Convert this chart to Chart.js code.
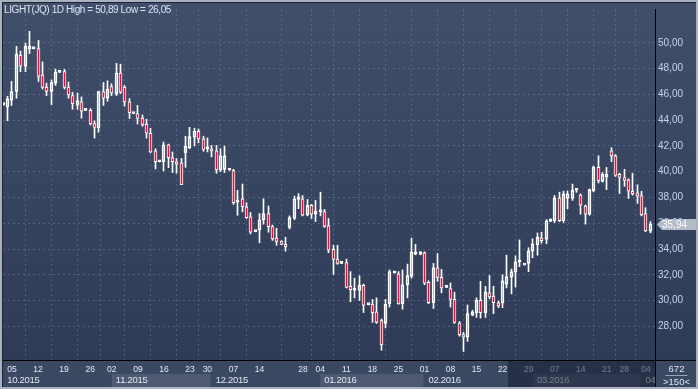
<!DOCTYPE html>
<html>
<head>
<meta charset="utf-8">
<script src="https://cdn.jsdelivr.net/npm/chart.js@4.4.1/dist/chart.umd.min.js"></script>
<style>
  html, body { margin: 0; padding: 0; background: #2e3a56; }
  canvas { display: block; }
</style>
</head>
<body>
<canvas id="chart" width="698" height="389"></canvas>
<script>
const title = 'LIGHT(JQ) 1D High = 50,89 Low = 26,05';

// daily candles, oldest first
const opens = [
  45.20, 45.04, 45.55, 46.23, 49.03, 48.19, 49.51, 49.54, 49.54, 47.50,
  46.57, 46.23, 46.87, 47.71, 47.76, 46.57, 45.90, 45.16, 45.42, 44.76,
  44.76, 43.74, 43.41, 46.21, 45.70, 46.61, 46.06, 47.64, 46.57, 45.42,
  44.51, 44.51, 44.15, 43.67, 42.98, 41.61, 40.77, 40.77, 42.09, 41.08,
  40.77, 40.69, 41.46, 41.86, 42.68, 43.13, 42.55, 41.78, 41.78, 41.61,
  40.13, 40.18, 40.13, 40.08, 37.64, 37.89, 37.28, 36.50, 35.35, 35.51,
  36.27, 36.75, 35.74, 34.84, 34.62, 34.36, 35.68, 36.37, 37.84, 37.89,
  36.62, 37.38, 36.70, 36.88, 36.90, 35.81, 33.98, 33.22, 32.88, 32.94,
  31.11, 30.80, 30.78, 31.18, 29.68, 29.71, 29.12, 28.44, 28.23, 29.76,
  32.15, 32.07, 29.76, 31.23, 31.87, 33.60, 33.60, 33.70, 31.41, 29.83,
  32.55, 31.81, 31.03, 30.93, 30.09, 28.26, 27.37, 27.16, 28.87, 29.07,
  30.01, 29.07, 30.60, 30.34, 29.83, 29.83, 31.28, 31.81, 32.20, 33.00,
  32.88, 32.88, 33.83, 34.33, 34.87, 34.74, 36.14, 36.19, 37.97, 36.19,
  37.92, 37.92, 38.56, 38.18, 37.33, 36.70, 38.53, 40.33, 39.24, 39.62,
  41.61, 41.23, 39.80, 39.55, 39.37, 38.48, 38.35, 38.15, 36.75, 35.38
];
const highs = [
  45.25, 45.85, 47.00, 49.72, 49.36, 49.97, 50.89, 49.56, 50.18, 48.52,
  46.87, 47.12, 47.96, 47.73, 47.94, 46.95, 46.16, 46.10, 45.80, 44.78,
  44.89, 43.94, 46.25, 46.92, 47.05, 46.82, 48.40, 48.34, 46.69, 45.67,
  44.53, 45.14, 44.40, 44.07, 43.36, 41.78, 40.79, 42.30, 42.14, 41.53,
  41.02, 41.02, 42.75, 43.44, 43.37, 43.31, 42.75, 42.62, 42.04, 42.04,
  41.78, 41.99, 40.15, 40.18, 38.56, 39.04, 37.59, 36.83, 35.37, 36.75,
  37.89, 37.34, 35.86, 35.61, 34.64, 34.92, 36.57, 38.10, 38.30, 38.15,
  37.84, 37.46, 37.77, 38.41, 37.08, 36.37, 34.29, 34.29, 32.90, 33.22,
  32.25, 31.74, 31.92, 31.28, 29.70, 30.09, 30.21, 28.57, 30.09, 32.38,
  32.27, 32.25, 32.38, 32.83, 34.84, 34.36, 33.80, 33.78, 31.54, 32.88,
  33.65, 32.42, 31.05, 31.36, 30.65, 28.38, 27.54, 29.66, 29.25, 30.21,
  31.49, 31.11, 31.94, 31.11, 29.96, 32.00, 33.52, 32.45, 33.47, 34.71,
  32.90, 34.10, 34.79, 35.25, 35.30, 36.27, 36.34, 38.15, 38.41, 38.49,
  38.49, 39.04, 38.60, 38.28, 37.41, 38.66, 40.43, 41.23, 39.93, 40.33,
  41.86, 41.33, 39.88, 40.18, 39.44, 39.88, 38.98, 38.48, 37.21, 36.12
];
const lows = [
  45.15, 43.95, 45.14, 45.70, 47.76, 47.76, 49.16, 49.52, 47.00, 46.41,
  45.90, 45.20, 46.69, 47.69, 46.41, 45.70, 44.84, 44.84, 44.15, 44.74,
  43.62, 42.60, 43.06, 45.14, 45.47, 45.90, 45.90, 46.06, 45.09, 44.13,
  44.49, 43.69, 43.52, 42.60, 41.46, 40.21, 40.75, 40.05, 40.31, 39.93,
  39.88, 38.99, 40.34, 41.78, 42.00, 42.24, 41.58, 41.53, 41.15, 39.88,
  40.00, 39.93, 40.11, 37.46, 36.62, 36.88, 36.37, 35.17, 35.33, 34.48,
  35.93, 35.30, 34.67, 34.29, 34.34, 33.83, 35.55, 36.27, 37.13, 36.57,
  36.57, 36.37, 36.12, 36.57, 35.68, 33.72, 32.04, 32.81, 32.86, 30.98,
  29.91, 30.21, 30.01, 29.07, 29.66, 28.31, 28.23, 26.15, 27.88, 29.50,
  32.13, 29.71, 29.33, 30.21, 31.74, 33.55, 33.55, 31.23, 29.76, 29.38,
  31.50, 30.60, 31.01, 29.50, 28.23, 27.24, 26.05, 26.83, 28.82, 28.69,
  28.64, 28.69, 30.14, 28.99, 29.45, 29.45, 30.98, 30.52, 31.05, 32.63,
  32.74, 32.25, 33.32, 33.52, 34.46, 34.41, 36.12, 36.06, 36.12, 36.06,
  37.13, 37.77, 38.40, 36.70, 35.93, 36.62, 38.43, 39.12, 39.19, 38.61,
  40.77, 39.63, 38.30, 38.86, 37.92, 38.18, 37.54, 36.57, 35.35, 35.25
];
const closes = [
  45.20, 45.65, 46.21, 49.10, 48.19, 49.72, 49.72, 49.54, 47.38, 46.54,
  46.23, 46.92, 47.71, 47.71, 46.54, 45.96, 45.27, 45.52, 44.70, 44.76,
  43.71, 43.44, 46.21, 45.70, 46.41, 46.11, 47.64, 46.16, 45.42, 44.58,
  44.51, 44.13, 43.62, 42.98, 41.53, 40.77, 40.77, 42.09, 41.08, 40.77,
  40.59, 38.99, 41.96, 42.72, 43.13, 42.55, 41.73, 41.78, 41.61, 40.13,
  41.23, 41.23, 40.13, 37.59, 37.79, 37.28, 36.44, 35.30, 35.35, 36.27,
  36.75, 35.74, 34.79, 34.59, 34.36, 34.18, 36.44, 37.89, 38.05, 36.62,
  37.38, 36.70, 36.95, 37.03, 35.76, 33.91, 33.19, 32.88, 32.88, 31.03,
  30.85, 30.80, 31.18, 29.63, 29.68, 29.07, 28.31, 26.58, 29.71, 32.25,
  32.25, 29.76, 31.23, 31.94, 33.78, 33.78, 33.78, 31.36, 29.83, 32.55,
  31.79, 30.98, 31.03, 30.09, 28.31, 27.35, 27.16, 28.99, 29.12, 30.01,
  29.07, 30.67, 30.29, 29.83, 29.58, 31.54, 31.87, 32.25, 33.00, 33.00,
  32.76, 33.85, 34.39, 34.92, 34.64, 36.19, 36.32, 37.97, 36.19, 38.28,
  38.28, 38.56, 38.56, 37.41, 36.70, 38.61, 40.33, 39.29, 39.80, 39.80,
  41.23, 39.70, 39.55, 39.32, 38.48, 38.28, 38.10, 36.65, 35.40, 35.94
];

// weekly grid: bar number of the week start and its day label
const weekBars = [3, 9, 15, 21, 26, 32, 38, 44, 48, 54, 60, 70, 74, 80, 86, 92, 98, 104, 110, 116, 122, 128, 134, 140, 144, 149];
const weekLabels = ['05', '12', '19', '26', '02', '09', '16', '23', '30', '07', '14', '28', '04', '11', '18', '25', '01', '08', '15', '22', '29', '07', '14', '21', '28', '04'];
const monthBars = [1, 26, 49, 74, 98, 123, 148];
const monthLabels = ['10.2015', '11.2015', '12.2015', '01.2016', '02.2016', '03.2016', '04'];
const yTicks = [28, 30, 32, 34, 36, 38, 40, 42, 44, 46, 48, 50];

const barNo = closes.map((_, i) => i + 1);
const lastPrice = closes[closes.length - 1];

const fmt = v => v.toFixed(2).replace('.', ',');
const FONT = "'Liberation Sans', Arial, sans-serif";

// put bars on whole pixels so the 1px wicks stay sharp
const snapBars = {
    id: 'snapBars',
    afterDatasetsUpdate(chart) {
        chart.data.datasets.forEach((ds, i) => {
            chart.getDatasetMeta(i).data.forEach(el => { el.x = Math.floor(el.x) + 0.5; });
        });
    }
};

const panel = {
    id: 'panel',
    beforeDraw(chart) {
        const {ctx, width, height} = chart;
        const g = ctx.createLinearGradient(0, 0, 0, height);
        g.addColorStop(0, '#414f6a');
        g.addColorStop(1, '#2d3955');
        ctx.save();
        ctx.fillStyle = g;
        ctx.fillRect(0, 0, width, height);
        ctx.restore();
    },
    afterDraw(chart) {
        const {ctx, width, height, chartArea: a, scales: {x, y}} = chart;
        const px = k => x.getPixelForValue(k);
        ctx.save();

        // time axis band
        ctx.fillStyle = '#3b4862';
        ctx.fillRect(a.left, a.bottom, width - a.left, height - a.bottom);

        // alternate month boxes
        ctx.fillStyle = 'rgba(255,255,255,0.10)';
        [1, 3, 5].forEach(m => {
            const x0 = px(monthBars[m]);
            const x1 = px(monthBars[m + 1]) - 1;
            ctx.fillRect(x0, a.bottom + 14, x1 - x0, 13);
        });

        ctx.save();
        ctx.beginPath();
        ctx.rect(a.left, a.bottom, a.right - a.left, height - a.bottom);
        ctx.clip();
        ctx.textBaseline = 'alphabetic';
        ctx.font = '8.5px ' + FONT;
        ctx.textAlign = 'center';
        ctx.fillStyle = '#e2e8f2';
        weekBars.forEach((b, i) => ctx.fillText(weekLabels[i], px(b), a.bottom + 12));
        ctx.font = '9.5px ' + FONT;
        ctx.textAlign = 'left';
        ctx.letterSpacing = '-0.3px';
        monthBars.forEach((b, i) => ctx.fillText(monthLabels[i], px(b) + 4, a.bottom + 23));
        ctx.letterSpacing = '0px';

        // navigator shade on the right of the time axis
        ctx.fillStyle = 'rgba(22,30,50,0.55)';
        const sx = px(117) + 1;
        ctx.fillRect(sx, a.bottom + 1, a.right - sx, height - a.bottom - 1);
        ctx.restore();

        // separators
        ctx.strokeStyle = '#000000';
        ctx.lineWidth = 1;
        ctx.beginPath();
        ctx.moveTo(a.left, Math.round(a.bottom) + 0.5);
        ctx.lineTo(width, Math.round(a.bottom) + 0.5);
        ctx.moveTo(Math.round(a.right) + 0.5, a.top);
        ctx.lineTo(Math.round(a.right) + 0.5, height);
        ctx.stroke();

        // corner counters
        ctx.fillStyle = '#dfe5f0';
        ctx.font = '9.5px ' + FONT;
        ctx.textAlign = 'center';
        const cx = (a.right + width) / 2;
        ctx.fillText('672', cx, a.bottom + 12);
        ctx.fillText('>150<', cx, a.bottom + 25);
        ctx.strokeStyle = '#9aa4b8';
        ctx.beginPath();
        ctx.moveTo(cx - 11, a.bottom + 15.5);
        ctx.lineTo(cx + 11, a.bottom + 15.5);
        ctx.stroke();

        // last price marker
        const yp = Math.round(y.getPixelForValue(lastPrice)) + 0.5;
        ctx.fillStyle = '#b3bac8';
        ctx.beginPath();
        ctx.moveTo(a.right + 2, yp);
        ctx.lineTo(a.right + 7, yp - 5.5);
        ctx.lineTo(width - 2, yp - 5.5);
        ctx.lineTo(width - 2, yp + 5.5);
        ctx.lineTo(a.right + 7, yp + 5.5);
        ctx.closePath();
        ctx.fill();
        ctx.fillStyle = '#ffffff';
        ctx.textAlign = 'left';
        ctx.textBaseline = 'middle';
        ctx.font = '10px ' + FONT;
        ctx.fillText(fmt(lastPrice), a.right + 7, yp + 0.5);

        // title
        ctx.textBaseline = 'alphabetic';
        ctx.fillStyle = '#dde4f2';
        ctx.font = '10px ' + FONT;
        ctx.letterSpacing = '-0.4px';
        ctx.fillText(title, 4, 13);
        ctx.letterSpacing = '0px';

        // frame
        ctx.fillStyle = '#1c2333';
        ctx.fillRect(2, 2, width - 4, 1);
        ctx.fillRect(2, 2, 1, height - 4);
        ctx.fillStyle = '#aab2c2';
        ctx.fillRect(0, 0, width, 2);
        ctx.fillRect(0, height - 2, width, 2);
        ctx.fillRect(0, 0, 2, height);
        ctx.fillRect(width - 2, 0, 2, height);
        ctx.restore();
    }
};

const gridColor = 'rgba(120,138,170,0.45)';

new Chart(document.getElementById('chart'), {
    type: 'bar',
    data: {
        datasets: [
            {
                data: barNo.map((k, i) => ({x: k, y: [opens[i], closes[i]]})),
                backgroundColor: barNo.map((k, i) => closes[i] < opens[i] ? '#e3123d' : 'rgba(0,0,0,0)'),
                borderColor: '#ffffff',
                borderWidth: 1,
                borderSkipped: false,
                barThickness: 3,
                minBarLength: 2,
                grouped: false,
                order: 0
            },
            {
                data: barNo.map((k, i) => ({x: k, y: [Math.max(opens[i], closes[i]), highs[i]]})),
                backgroundColor: '#ffffff',
                borderWidth: 0,
                barThickness: 1,
                grouped: false,
                order: 1
            },
            {
                data: barNo.map((k, i) => ({x: k, y: [lows[i], Math.min(opens[i], closes[i])]})),
                backgroundColor: '#ffffff',
                borderWidth: 0,
                barThickness: 1,
                grouped: false,
                order: 1
            }
        ]
    },
    options: {
        responsive: false,
        animation: false,
        events: [],
        devicePixelRatio: 1,
        layout: { padding: { left: 3, top: 3, right: 0, bottom: 0 } },
        plugins: { legend: { display: false }, tooltip: { enabled: false } },
        scales: {
            x: {
                type: 'linear',
                min: 0.93,
                max: 151.1,
                offset: false,
                afterBuildTicks: ax => { ax.ticks = weekBars.map(v => ({value: v})); },
                afterFit: ax => { ax.height = 29; },
                ticks: { display: false },
                grid: { color: gridColor, drawTicks: false },
                border: { display: false, dash: [2, 3] }
            },
            y: {
                position: 'right',
                min: 25.39,
                max: 52.62,
                afterBuildTicks: ax => { ax.ticks = yTicks.map(v => ({value: v})); },
                afterFit: ax => { ax.width = 43; },
                ticks: {
                    color: '#c6d4ee',
                    font: { family: FONT, size: 10 },
                    padding: 3,
                    callback: v => fmt(v)
                },
                grid: { color: gridColor, drawTicks: false },
                border: { display: false, dash: [2, 3] }
            }
        }
    },
    plugins: [snapBars, panel]
});
</script>
</body>
</html>
